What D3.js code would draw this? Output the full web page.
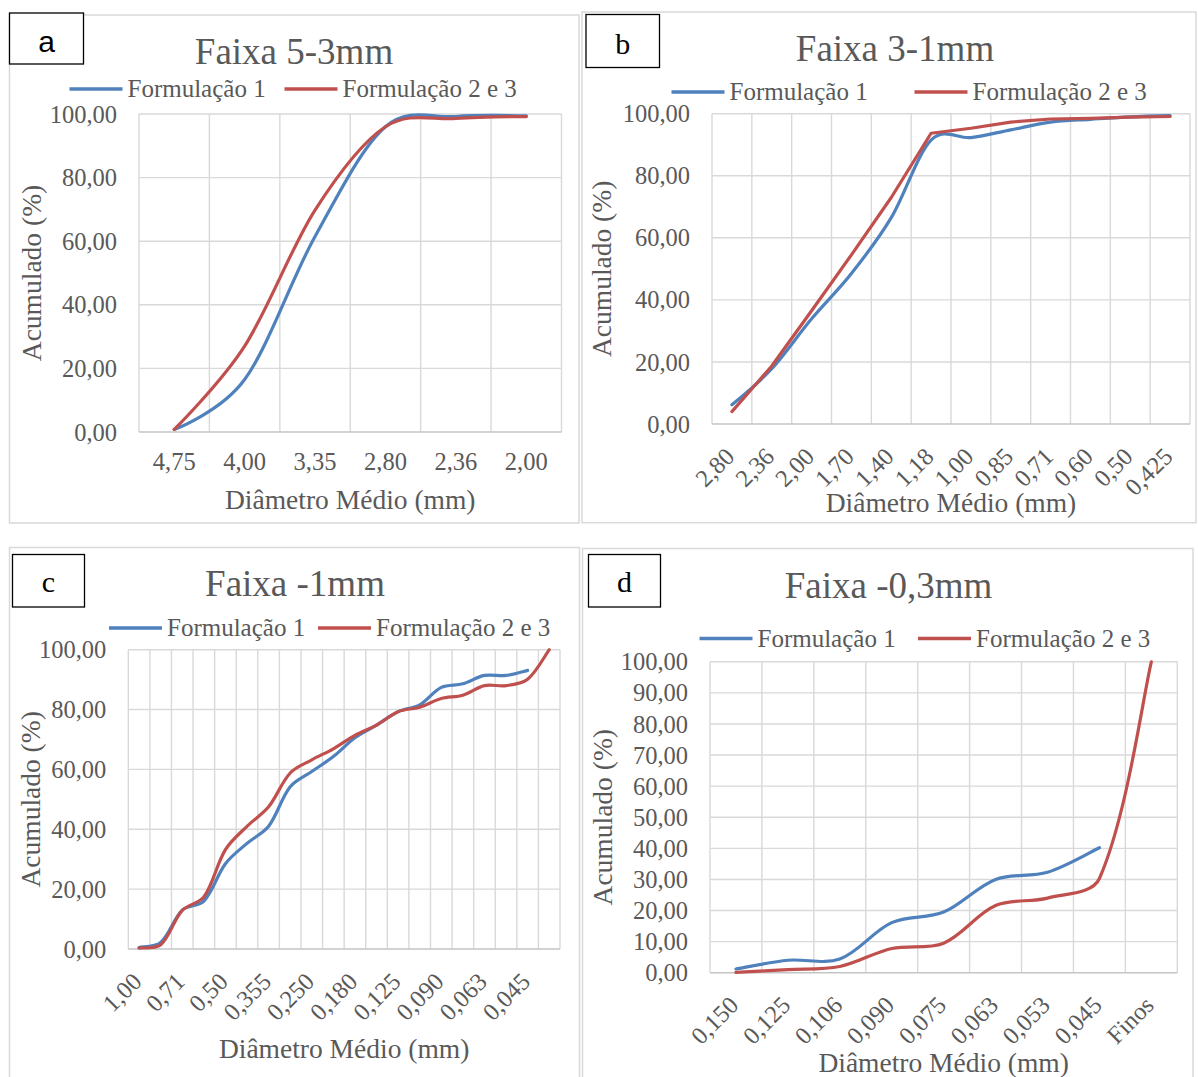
<!DOCTYPE html>
<html><head><meta charset="utf-8">
<script src="https://cdn.jsdelivr.net/npm/d3@7"></script>
<style>body{margin:0;background:#fff} svg{display:block}</style>
</head><body>
<svg id="chart" width="1198" height="1077"></svg>
<script>
// ---------- data ----------
const seriesNames = ["Formulação 1", "Formulação 2 e 3"];
const yAxisTitle = "Acumulado (%)";
const xAxisTitle = "Diâmetro Médio (mm)";

const titleA = "Faixa 5-3mm";
const catsA = ["4,75", "4,00", "3,35", "2,80", "2,36", "2,00"];
const a_f1  = [0.8, 16.5, 61.5, 96.0, 99.2, 99.4];
const a_f23 = [0.8, 27.0, 69.8, 96.0, 98.6, 99.2];

const titleB = "Faixa 3-1mm";
const catsB = ["2,80", "2,36", "2,00", "1,70", "1,40", "1,18", "1,00", "0,85", "0,71", "0,60", "0,50", "0,425"];
const b_f1  = [6.2, 17.8, 33.9, 48.5, 66.5, 91.5, 92.3, 94.8, 97.3, 98.2, 99.0, 99.4];
const b_f23 = [4.0, 18.7, 36.5, 54.5, 73.0, 93.7, 95.3, 97.3, 98.3, 98.5, 98.9, 99.1];

const titleC = "Faixa -1mm";
const catsC = ["1,00", "0,85", "0,71", "0,60", "0,50", "0,425", "0,355", "0,300", "0,250", "0,212",
               "0,180", "0,150", "0,125", "0,106", "0,090", "0,075", "0,063", "0,053", "0,045", "Finos"];
const c_f1  = [0.5, 2.2, 13.0, 16.0, 28.5, 35.3, 41.0, 54.2, 59.3, 64.3, 70.6, 74.8, 79.3, 81.6, 87.4, 88.6, 91.4, 91.4, 93.1];
const c_f23 = [0.3, 1.4, 12.9, 17.4, 33.2, 41.0, 47.5, 58.8, 63.2, 66.9, 71.4, 74.8, 79.3, 80.8, 83.7, 84.8, 88.0, 88.0, 90.1, 100.0];

const titleD = "Faixa -0,3mm";
const catsD = ["0,150", "0,125", "0,106", "0,090", "0,075", "0,063", "0,053", "0,045", "Finos"];
const d_f1  = [1.2, 4.0, 4.4, 16.1, 19.5, 30.0, 32.3, 40.2];
const d_f23 = [0.1, 1.0, 2.0, 7.8, 9.5, 21.6, 24.0, 30.3, 100.0];

const yTicks20 = [0, 20, 40, 60, 80, 100];
const yTicks10 = [0, 10, 20, 30, 40, 50, 60, 70, 80, 90, 100];

// ---------- style ----------
const TXT = "#595959";
const GRID = "#d9d9d9";
const BLUE = "#4f81bd";
const RED = "#c0504d";
const SERIF = "'Liberation Serif','Times New Roman',serif";
const SANS = "'Liberation Sans',Arial,sans-serif";
const fmt = d3.formatLocale({decimal: ",", thousands: ".", grouping: [3], currency: ["", ""]}).format(".2f");
const smooth = d3.curveCardinal.tension(0);

// spreadsheet-style smoothing: control handles weighted by neighbouring chord lengths
function WeightedCurve(context) { this._context = context; }
WeightedCurve.prototype = {
  areaStart() {}, areaEnd() {},
  lineStart() { this._pts = []; },
  point(x, y) { this._pts.push([+x, +y]); },
  lineEnd() {
    const P = this._pts, n = P.length, c = this._context;
    if (!n) return;
    c.moveTo(P[0][0], P[0][1]);
    if (n < 3) { if (n === 2) c.lineTo(P[1][0], P[1][1]); return; }
    const dist = (a, b) => Math.hypot(b[0] - a[0], b[1] - a[1]);
    const inC = [], outC = [];
    for (let i = 0; i < n; i++) {
      const p1 = P[i];
      if (i === 0 || i === n - 1) {
        const q = i === 0 ? P[1] : P[n - 2];
        const h = [p1[0] + (q[0] - p1[0]) / 6, p1[1] + (q[1] - p1[1]) / 6];
        inC[i] = h; outC[i] = h;
        continue;
      }
      const p0 = P[i - 1], p2 = P[i + 1];
      const d01 = dist(p0, p1), d12 = dist(p1, p2), s = (d01 + d12) || 1;
      const tx = p2[0] - p0[0], ty = p2[1] - p0[1];
      inC[i] = [p1[0] - tx * d01 / s / 3, p1[1] - ty * d01 / s / 3];
      outC[i] = [p1[0] + tx * d12 / s / 3, p1[1] + ty * d12 / s / 3];
    }
    for (let i = 0; i < n - 1; i++)
      c.bezierCurveTo(outC[i][0], outC[i][1], inC[i + 1][0], inC[i + 1][1], P[i + 1][0], P[i + 1][1]);
  }
};
const weighted = ctx => new WeightedCurve(ctx);

const svg = d3.select("#chart");

function panel(cfg) {
  const g = svg.append("g");
  // frame
  g.append("rect").attr("x", cfg.frame[0]).attr("y", cfg.frame[1])
    .attr("width", cfg.frame[2] - cfg.frame[0]).attr("height", cfg.frame[3] - cfg.frame[1])
    .attr("fill", "none").attr("stroke", GRID).attr("stroke-width", 1.5);

  const p = cfg.plot;
  const x = d3.scaleBand().domain(d3.range(cfg.cats.length)).range([p.l, p.r]).padding(0);
  const y = d3.scaleLinear().domain([0, 100]).range([p.b, p.t]);
  const cx = i => x(i) + x.bandwidth() / 2;

  // gridlines
  const grid = g.append("g").attr("stroke", GRID).attr("stroke-width", 1.4);
  cfg.ticks.forEach(t => {
    if (t === 0) return;
    grid.append("line").attr("x1", p.l).attr("x2", p.r).attr("y1", y(t)).attr("y2", y(t));
  });
  const bounds = d3.range(cfg.cats.length).map(i => x(i)).concat([p.r]);
  bounds.forEach(bx => grid.append("line").attr("x1", bx).attr("x2", bx).attr("y1", p.t).attr("y2", p.b));
  g.append("line").attr("x1", p.l).attr("x2", p.r).attr("y1", p.b).attr("y2", p.b)
    .attr("stroke", "#c4c4c4").attr("stroke-width", 1.6);

  // y axis
  const ya = g.append("g").attr("transform", `translate(${p.l},0)`)
    .call(d3.axisLeft(y).tickValues(cfg.ticks).tickFormat(fmt).tickSize(0).tickPadding(22));
  ya.select(".domain").remove();
  ya.selectAll("text").attr("fill", TXT).attr("font-family", SERIF).attr("font-size", 24.5).attr("dy", "0.33em");

  // x axis
  const tv = d3.range(cfg.cats.length).filter(i => i % cfg.labelStep === 0);
  const xa = g.append("g").attr("transform", `translate(0,${p.b})`)
    .call(d3.axisBottom(x).tickValues(tv).tickFormat(i => cfg.cats[i]).tickSize(0));
  xa.select(".domain").remove();
  const xt = xa.selectAll("text").attr("fill", TXT).attr("font-family", SERIF).attr("font-size", 24.5);
  if (cfg.rotate) {
    xt.attr("x", 0).attr("y", 0).attr("dy", 0).attr("text-anchor", "end")
      .attr("transform", `translate(4,34) rotate(-45)`);
  } else {
    xt.attr("x", 0).attr("y", 38).attr("dy", 0).attr("text-anchor", "middle");
  }

  // series
  const line = curve => d3.line().x((d, i) => cx(i)).y(d => y(d)).curve(curve);
  g.append("path").datum(cfg.f1).attr("d", line(cfg.curve1))
    .attr("fill", "none").attr("stroke", BLUE).attr("stroke-width", 3.2)
    .attr("stroke-linecap", "round").attr("stroke-linejoin", "round");
  g.append("path").datum(cfg.f23).attr("d", line(cfg.curve2))
    .attr("fill", "none").attr("stroke", RED).attr("stroke-width", 3.2)
    .attr("stroke-linecap", "round").attr("stroke-linejoin", "round");

  // title
  g.append("text").attr("x", cfg.title.x).attr("y", cfg.title.y).attr("text-anchor", "middle")
    .attr("font-family", SERIF).attr("font-size", 37).attr("fill", TXT).text(cfg.title.text);

  // legend
  const L = cfg.legend;
  [[L.bx, BLUE, seriesNames[0]], [L.rx, RED, seriesNames[1]]].forEach(([lx, col, name]) => {
    g.append("line").attr("x1", lx).attr("x2", lx + 53).attr("y1", L.y).attr("y2", L.y)
      .attr("stroke", col).attr("stroke-width", 3.5);
    g.append("text").attr("x", lx + 58).attr("y", L.y).attr("dy", "0.32em")
      .attr("font-family", SERIF).attr("font-size", 25).attr("fill", TXT).text(name);
  });

  // axis titles
  g.append("text").attr("x", (p.l + p.r) / 2).attr("y", cfg.xTitleY).attr("text-anchor", "middle")
    .attr("font-family", SERIF).attr("font-size", 27.5).attr("fill", TXT).text(xAxisTitle);
  g.append("text").attr("transform", `translate(${cfg.yTitleX},${(p.t + p.b) / 2}) rotate(-90)`)
    .attr("text-anchor", "middle").attr("dy", "0.35em")
    .attr("font-family", SERIF).attr("font-size", 27.5).attr("fill", TXT).text(yAxisTitle);

  // letter box
  const B = cfg.box;
  g.append("rect").attr("x", B.x0).attr("y", B.y0).attr("width", B.x1 - B.x0).attr("height", B.y1 - B.y0)
    .attr("fill", "#fff").attr("stroke", "#000").attr("stroke-width", 1.3);
  g.append("text").attr("x", (B.x0 + B.x1) / 2).attr("y", B.base).attr("text-anchor", "middle")
    .attr("font-family", B.font).attr("font-size", B.size).attr("fill", "#000").text(B.letter);
}

panel({
  frame: [9.5, 15, 579, 523],
  plot: {l: 139, r: 561.5, t: 114, b: 432},
  cats: catsA, f1: a_f1, f23: a_f23, ticks: yTicks20, labelStep: 1, rotate: false,
  curve1: smooth, curve2: smooth,
  title: {text: titleA, x: 294, y: 64},
  legend: {y: 89, bx: 69.5, rx: 284.5},
  xTitleY: 508.5, yTitleX: 31,
  box: {x0: 9.5, y0: 13, x1: 83.5, y1: 64, letter: "a", font: SANS, size: 30, base: 51.5}
});

panel({
  frame: [582, 12, 1196, 522.7],
  plot: {l: 712, r: 1190, t: 113.7, b: 424},
  cats: catsB, f1: b_f1, f23: b_f23, ticks: yTicks20, labelStep: 1, rotate: true,
  curve1: smooth, curve2: d3.curveLinear,
  title: {text: titleB, x: 895, y: 60.5},
  legend: {y: 92, bx: 671.5, rx: 914.5},
  xTitleY: 511.5, yTitleX: 601.5,
  box: {x0: 586, y0: 14.5, x1: 659.5, y1: 67.5, letter: "b", font: SERIF, size: 30, base: 54}
});

panel({
  frame: [9.5, 547.5, 579.5, 1085],
  plot: {l: 128.3, r: 560, t: 649.7, b: 949},
  cats: catsC, f1: c_f1, f23: c_f23, ticks: yTicks20, labelStep: 2, rotate: true,
  curve1: weighted, curve2: weighted,
  title: {text: titleC, x: 295, y: 596},
  legend: {y: 628, bx: 109, rx: 318},
  xTitleY: 1058, yTitleX: 30,
  box: {x0: 12.5, y0: 554.5, x1: 84.5, y1: 607, letter: "c", font: SERIF, size: 30, base: 592}
});

panel({
  frame: [582.5, 548.5, 1193, 1085],
  plot: {l: 710, r: 1177.3, t: 661.8, b: 972.7},
  cats: catsD, f1: d_f1, f23: d_f23, ticks: yTicks10, labelStep: 1, rotate: true,
  curve1: weighted, curve2: weighted,
  title: {text: titleD, x: 888.5, y: 597.5},
  legend: {y: 638.5, bx: 699.5, rx: 918},
  xTitleY: 1071.5, yTitleX: 602,
  box: {x0: 588.5, y0: 554.5, x1: 660.5, y1: 607, letter: "d", font: SERIF, size: 30, base: 592}
});
</script>
</body></html>
